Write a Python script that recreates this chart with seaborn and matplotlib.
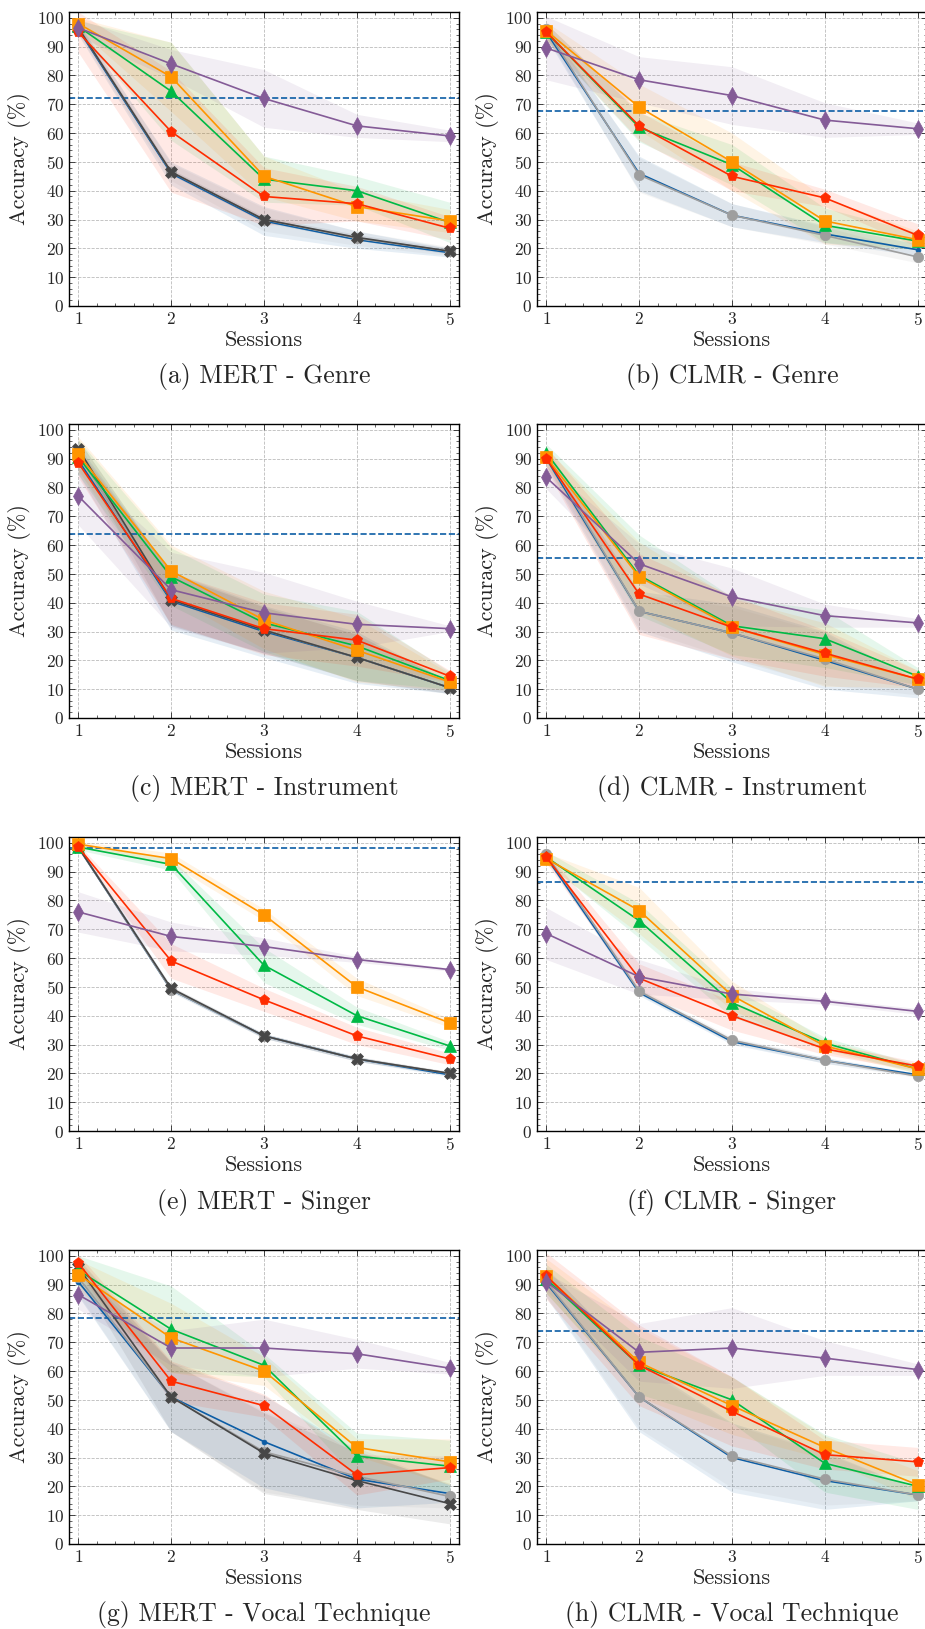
import numpy as np
import pandas as pd
import matplotlib as mpl
from matplotlib import pyplot as plt
from matplotlib.ticker import AutoMinorLocator, MultipleLocator
import seaborn as sns

sessions = [1, 2, 3, 4, 5]

# series order = draw order
series_names = ["blue", "gray", "dark", "green", "orange", "red", "purple"]
colors = {"blue": "#0C5DA5", "gray": "#9e9e9e", "dark": "#474747", "green": "#00B945",
          "orange": "#FF9500", "red": "#FF2C00", "purple": "#845B97"}
markers = {"blue": ".", "gray": "o", "dark": "X", "green": "^", "orange": "s", "red": "p", "purple": "d"}
msizes = {"blue": 7, "gray": 7.5, "dark": 8.5, "green": 8, "orange": 8, "red": 8, "purple": 9}

captions = ["(a) MERT - Genre", "(b) CLMR - Genre", "(c) MERT - Instrument", "(d) CLMR - Instrument",
            "(e) MERT - Singer", "(f) CLMR - Singer", "(g) MERT - Vocal Technique", "(h) CLMR - Vocal Technique"]

joint_acc = [72.3, 67.8, 63.7, 55.5, 98.2, 86.5, 78.3, 74.0]

# mean accuracy per panel
mert_genre = {
    "blue": [96, 46, 29.5, 23, 18.5], "gray": [96.5, 46.5, 30, 23.5, 19], "dark": [96.5, 46.5, 30, 23.8, 19],
    "green": [97, 74.5, 44, 40, 29], "orange": [98, 79.5, 45, 34.5, 29.5], "red": [95, 60.5, 38, 35.5, 27],
    "purple": [96.5, 84, 72, 62.5, 59]}
clmr_genre = {
    "blue": [95, 46, 31.5, 25, 19.5], "gray": [96, 45.5, 31.5, 24.5, 17], "dark": None,
    "green": [95, 62, 49, 28, 22.5], "orange": [95.5, 69, 50, 29.5, 23], "red": [95, 62.5, 45, 37.5, 24.5],
    "purple": [89.5, 78.5, 73, 64.5, 61.5]}
mert_instr = {
    "blue": [89.5, 40.5, 30, 21, 10.5], "gray": [91.5, 41, 30.5, 21, 10.5], "dark": [93.5, 41, 30.5, 21, 10.5],
    "green": [90.5, 49, 33, 25, 13], "orange": [91.5, 51, 34, 23.5, 12.5], "red": [88.5, 41.5, 31, 27, 14.5],
    "purple": [77, 44.5, 36.5, 32.5, 31]}
clmr_instr = {
    "blue": [90, 37, 29.5, 20, 10], "gray": [91, 37, 29.5, 20.5, 10], "dark": None,
    "green": [92, 49.5, 32, 27.5, 14.5], "orange": [90.5, 49, 31.5, 22, 13.5], "red": [90, 43, 31.5, 22.5, 13.5],
    "purple": [83.5, 53.5, 42, 35.5, 33]}
mert_singer = {
    "blue": [98.5, 49, 33, 25, 19.5], "gray": [98.5, 49, 33, 25, 20], "dark": [98.5, 49.5, 33, 25, 20],
    "green": [98.5, 92.5, 57.5, 40, 29.5], "orange": [99.5, 94.5, 75, 50, 37.5], "red": [98.5, 59, 45.5, 33, 25],
    "purple": [76, 67.5, 64, 59.5, 56]}
clmr_singer = {
    "blue": [95, 48, 31, 24.5, 19.5], "gray": [96, 48.5, 31.5, 24.5, 19], "dark": None,
    "green": [95, 73, 44.5, 30.5, 21.5], "orange": [94.5, 76.5, 47, 29.5, 21.5], "red": [95, 53, 40, 28.5, 22.5],
    "purple": [68.5, 53.5, 47.5, 45, 41.5]}
mert_vocal = {
    "blue": [91, 51, 35.5, 22.5, 17.5], "gray": [92.5, 51, 32, 23.5, 16.5], "dark": [96, 51, 31.5, 22, 14],
    "green": [95, 74.5, 62, 30.5, 27], "orange": [93.5, 71.5, 60, 33.5, 28.5], "red": [97.5, 56.5, 48, 24, 26.5],
    "purple": [86.5, 68, 68, 66, 61]}
clmr_vocal = {
    "blue": [90.5, 51, 30, 22, 17], "gray": [91, 51, 30.5, 22.5, 17], "dark": None,
    "green": [92, 62, 50, 28, 20], "orange": [93, 63, 48, 33.5, 20.5], "red": [93, 62, 46, 31, 28.5],
    "purple": [91, 66.5, 68, 64.5, 60.5]}

# std (shaded band half-width)
mert_genre_std = {
    "blue": [2, 4, 5, 3, 1.5], "gray": [2, 3, 4, 2.5, 1.5], "dark": [1, 1, 1, 1, 1],
    "green": [2, 17, 8, 5, 7], "orange": [2, 12, 7, 5, 4], "red": [7, 21, 10, 6, 4],
    "purple": [3, 5, 10, 4, 2]}
clmr_genre_std = {
    "blue": [2, 6, 4, 3, 2], "gray": [2, 6, 4, 3, 2], "dark": None,
    "green": [3, 5, 7, 6, 3], "orange": [3, 8, 10, 8, 3], "red": [3, 5, 5, 3, 4],
    "purple": [11, 8, 10, 6, 2]}
mert_instr_std = {
    "blue": [5, 10, 9, 9, 2], "gray": [5, 9, 8, 8, 2], "dark": [3, 9, 8, 8, 2],
    "green": [6, 10, 10, 12, 3], "orange": [6, 9, 10, 11, 3], "red": [5, 9, 9, 9, 2],
    "purple": [10, 13, 14, 8, 1]}
clmr_instr_std = {
    "blue": [3, 7, 10, 10, 3], "gray": [3, 6, 9, 9, 2], "dark": None,
    "green": [3, 14, 10, 10, 3], "orange": [3, 12, 10, 11, 3], "red": [4, 14, 11, 8, 3],
    "purple": [4, 7, 10, 4, 1.5]}
mert_singer_std = {
    "blue": [0.8, 0.8, 0.8, 0.8, 0.6], "gray": [0.8, 0.8, 0.8, 0.8, 0.6], "dark": [0.8, 0.8, 0.8, 0.8, 0.6],
    "green": [1, 2, 6, 3, 1.5], "orange": [1, 2, 2, 3, 1.5], "red": [1, 6, 4, 3, 2],
    "purple": [7, 5, 3, 1, 0.5]}
clmr_singer_std = {
    "blue": [1, 1, 1, 1, 0.5], "gray": [1, 1, 1, 1, 0.5], "dark": None,
    "green": [2, 6, 5, 2, 1.5], "orange": [2, 8, 5, 2, 1.5], "red": [2, 5, 5, 2, 1.5],
    "purple": [9, 6, 2, 1, 1]}
mert_vocal_std = {
    "blue": [5, 12, 16, 10, 3], "gray": [6, 12, 14, 10, 4], "dark": [3, 12, 14, 10, 7],
    "green": [5, 15, 4, 8, 9], "orange": [5, 12, 5, 3, 8], "red": [3, 7, 4, 7, 4],
    "purple": [5, 6, 10, 5, 2]}
clmr_vocal_std = {
    "blue": [5, 12, 12, 10, 2], "gray": [5, 11, 11, 9, 2], "dark": None,
    "green": [5, 10, 8, 10, 8], "orange": [6, 12, 10, 4, 5], "red": [8, 14, 12, 5, 5],
    "purple": [3, 10, 14, 6, 2]}

panels = [(mert_genre, mert_genre_std), (clmr_genre, clmr_genre_std),
          (mert_instr, mert_instr_std), (clmr_instr, clmr_instr_std),
          (mert_singer, mert_singer_std), (clmr_singer, clmr_singer_std),
          (mert_vocal, mert_vocal_std), (clmr_vocal, clmr_vocal_std)]

sns.set_style("ticks")
mpl.rcParams.update({
    "font.family": "cmr10",
    "mathtext.fontset": "cm",
    "axes.formatter.use_mathtext": True,
    "xtick.direction": "in", "ytick.direction": "in",
    "xtick.top": True, "ytick.right": True,
    "xtick.minor.visible": True, "ytick.minor.visible": True,
    "xtick.major.size": 4, "ytick.major.size": 4,
    "xtick.minor.size": 2, "ytick.minor.size": 2,
    "xtick.major.width": 0.6, "ytick.major.width": 0.6,
    "xtick.minor.width": 0.5, "ytick.minor.width": 0.5,
    "axes.linewidth": 1.0,
    "axes.edgecolor": "black",
})

W, H = 925, 1629
fig = plt.figure(figsize=(W / 100, H / 100), dpi=100)

col_left = [69, 537]
ax_w = 390
ax_h = 294
row_top = [12, 424, 837, 1250]

for i, ((means, stds), cap) in enumerate(zip(panels, captions)):
    r, c = divmod(i, 2)
    x0 = col_left[c]
    y_bot = row_top[r] + ax_h
    ax = fig.add_axes([x0 / W, 1 - y_bot / H, ax_w / W, ax_h / H])

    for name in series_names:
        if means[name] is None:
            continue
        m = np.array(means[name])
        s = np.array(stds[name])
        ax.fill_between(sessions, m - s, m + s, color=colors[name], alpha=0.1, linewidth=0, zorder=1)

    for k, name in enumerate(series_names):
        if means[name] is None:
            continue
        df = pd.DataFrame({"session": sessions, "acc": means[name]})
        sns.lineplot(data=df, x="session", y="acc", ax=ax, color=colors[name], marker=markers[name],
                     markersize=msizes[name], markeredgecolor=colors[name], markeredgewidth=0.5,
                     linewidth=1.2, zorder=3 + k)

    ax.axhline(joint_acc[i], color="#0C5DA5", linestyle="--", linewidth=1.2, zorder=2)

    ax.set_xlim(0.9, 5.1)
    ax.set_ylim(0, 102)
    ax.xaxis.set_major_locator(MultipleLocator(1))
    ax.yaxis.set_major_locator(MultipleLocator(10))
    ax.xaxis.set_minor_locator(AutoMinorLocator(5))
    ax.yaxis.set_minor_locator(AutoMinorLocator(5))
    ax.grid(True, which="major", color="#aaaaaa", linestyle="--", linewidth=0.6, alpha=0.8)
    ax.tick_params(labelsize=12.5)
    ax.set_xlabel("Sessions", fontsize=16, labelpad=2)
    ax.set_ylabel("Accuracy (%)", fontsize=16, labelpad=4)
    for sp in ax.spines.values():
        sp.set_visible(True)

    fig.text((x0 + ax_w / 2) / W, 1 - (y_bot + 71) / H, cap, ha="center", va="center", fontsize=18.5)

fig.savefig("out.png", dpi=100)
